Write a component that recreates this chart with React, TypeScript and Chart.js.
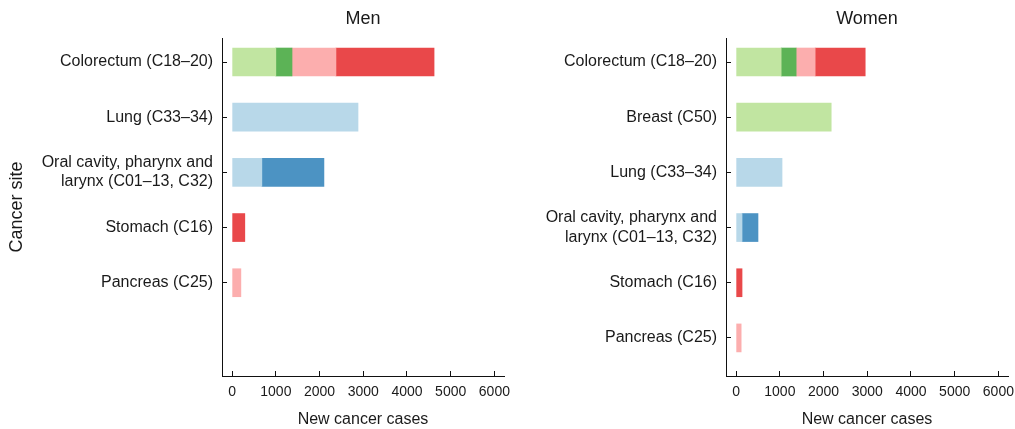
import React, { useEffect, useRef } from 'react';
import { Chart, registerables } from 'chart.js';

Chart.register(...registerables);

const FONT = '"Liberation Sans", Arial, Helvetica, sans-serif';
const TEXT = '#1a1a1a';
const AXIS = '#111111';

// ---- Men ----
const menCategories: (string | string[])[] = [
  'Colorectum (C18–20)',
  'Lung (C33–34)',
  ['Oral cavity, pharynx and', 'larynx (C01–13, C32)'],
  'Stomach (C16)',
  'Pancreas (C25)',
];
const menLightGreen = [1000, null, null, null, null];
const menDarkGreen = [370, null, null, null, null];
const menPink = [1005, null, null, null, 200];
const menRed = [2245, null, null, 290, null];
const menLightBlue = [null, 2880, 680, null, null];
const menDarkBlue = [null, null, 1420, null, null];

// ---- Women ----
const womenCategories: (string | string[])[] = [
  'Colorectum (C18–20)',
  'Breast (C50)',
  'Lung (C33–34)',
  ['Oral cavity, pharynx and', 'larynx (C01–13, C32)'],
  'Stomach (C16)',
  'Pancreas (C25)',
];
const womenLightGreen = [1030, 2175, null, null, null, null];
const womenDarkGreen = [343, null, null, null, null, null];
const womenPink = [435, null, null, null, null, 115];
const womenRed = [1145, null, null, null, 135, null];
const womenLightBlue = [null, null, 1050, 135, null, null];
const womenDarkBlue = [null, null, null, 365, null, null];

const seriesColors = ['#c1e5a1', '#5cb356', '#fcaeae', '#e9484a', '#b8d8e9', '#4c93c3'];
const seriesNames = ['Series 1', 'Series 2', 'Series 3', 'Series 4', 'Series 5', 'Series 6'];

const xTickValues = [0, 1000, 2000, 3000, 4000, 5000, 6000];
const xMin = -232;
const xMax = 6220;
const yMin = -0.435;
const yMax = 5.69;

type PanelProps = {
  title: string;
  categories: (string | string[])[];
  series: (number | null)[][];
  yTitle?: string;
  width: number;
  yAxisWidth: number;
  rightPad: number;
};

function Panel({ title, categories, series, yTitle, width, yAxisWidth, rightPad }: PanelProps) {
  const ref = useRef<HTMLCanvasElement | null>(null);
  useEffect(() => {
    if (!ref.current) return;
    const datasets = series.map((vals, si) => ({
      label: seriesNames[si],
      data: vals
        .map((v, i) => (v == null ? null : { x: v, y: i }))
        .filter((p) => p !== null) as { x: number; y: number }[],
      backgroundColor: seriesColors[si],
      borderWidth: 0,
      barThickness: 28,
    }));
    const chart = new Chart(ref.current, {
      type: 'bar',
      data: { datasets },
      options: {
        indexAxis: 'y',
        animation: false,
        responsive: true,
        maintainAspectRatio: false,
        layout: { padding: { left: 0, right: rightPad, top: 0, bottom: 0 } },
        plugins: {
          legend: { display: false },
          tooltip: { enabled: false },
          title: {
            display: true,
            text: title,
            fullSize: false,
            color: TEXT,
            font: { family: FONT, size: 18, weight: 'normal' },
            padding: { top: 8, bottom: 8.4 },
          },
        },
        scales: {
          x: {
            type: 'linear',
            min: xMin,
            max: xMax,
            stacked: true,
            afterBuildTicks: (s: any) => {
              s.ticks = xTickValues.map((v) => ({ value: v }));
            },
            ticks: {
              autoSkip: false,
              maxRotation: 0,
              minRotation: 0,
              padding: 13,
              color: TEXT,
              font: { family: FONT, size: 14 },
              callback: (v: any) => String(v),
            },
            grid: { drawOnChartArea: false, drawTicks: true, tickLength: -5, color: AXIS, lineWidth: 1 },
            border: { display: true, color: AXIS, width: 1 },
            title: {
              display: true,
              text: 'New cancer cases',
              color: TEXT,
              font: { family: FONT, size: 16 },
              padding: { top: 9, bottom: 0 },
            },
            afterFit: (s: any) => {
              s.height = 53;
              s.paddingLeft = 0;
              s.paddingRight = 0;
            },
          },
          y: {
            type: 'linear',
            reverse: true,
            min: yMin,
            max: yMax,
            offset: false,
            stacked: true,
            afterBuildTicks: (s: any) => {
              s.ticks = categories.map((_, i) => ({ value: i }));
            },
            ticks: {
              autoSkip: false,
              padding: 14,
              color: TEXT,
              font: { family: FONT, size: 16 },
              callback: (v: any) => {
                const c = categories[Math.round(Number(v))];
                return c === undefined ? '' : c;
              },
            },
            grid: {
              offset: false,
              drawOnChartArea: false,
              drawTicks: true,
              tickLength: -5,
              color: AXIS,
              lineWidth: 1,
            },
            border: { display: true, color: AXIS, width: 1 },
            title: {
              display: !!yTitle,
              text: yTitle || '',
              color: TEXT,
              font: { family: FONT, size: 18 },
              padding: { top: 6, bottom: 0 },
            },
            afterFit: (s: any) => {
              s.width = yAxisWidth;
              s.paddingTop = 0;
              s.paddingBottom = 0;
            },
          },
        },
      } as any,
    });
    return () => chart.destroy();
  }, []);
  return (
    <div style={{ position: 'relative', width, height: 429 }}>
      <canvas ref={ref} />
    </div>
  );
}

export default function App() {
  return (
    <div
      style={{
        position: 'fixed',
        left: 0,
        top: 0,
        width: 1015,
        height: 429,
        display: 'flex',
        background: '#fff',
      }}
    >
      <Panel
        title="Men"
        categories={menCategories}
        series={[menLightGreen, menDarkGreen, menPink, menRed, menLightBlue, menDarkBlue]}
        yTitle="Cancer site"
        width={510}
        yAxisWidth={222}
        rightPad={6}
      />
      <Panel
        title="Women"
        categories={womenCategories}
        series={[womenLightGreen, womenDarkGreen, womenPink, womenRed, womenLightBlue, womenDarkBlue]}
        width={505}
        yAxisWidth={216}
        rightPad={7}
      />
    </div>
  );
}
